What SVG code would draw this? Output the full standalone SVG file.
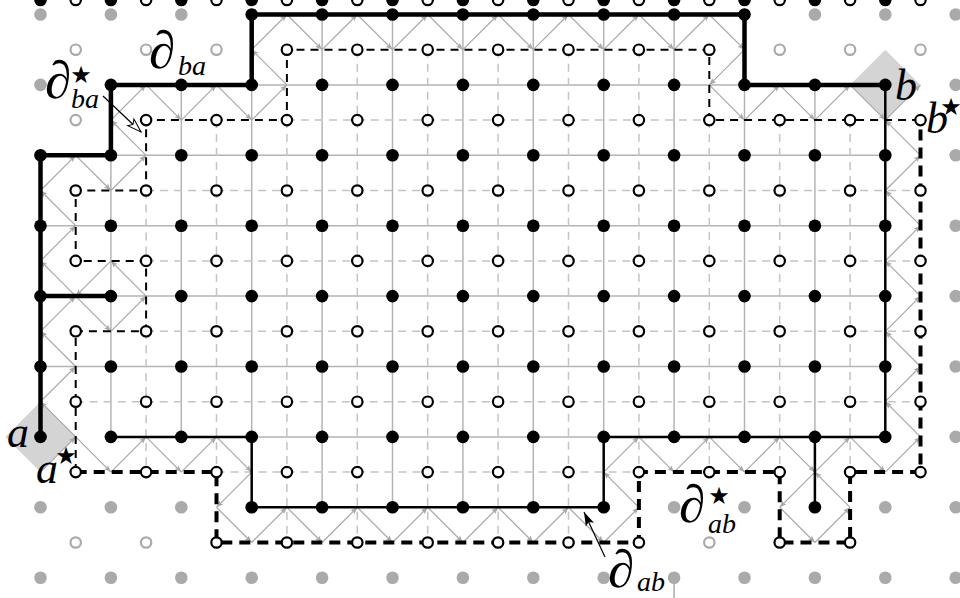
<svg xmlns="http://www.w3.org/2000/svg" width="960" height="598" viewBox="0 0 960 598">
<style>
.pe{stroke:#b4b4b4;stroke-width:1.5;fill:none}
.de{stroke:#c4c4c4;stroke-width:1.5;stroke-dasharray:8 6;fill:none}
.md path{stroke:#a8a8a8;stroke-width:1.2;fill:none;marker-end:url(#ah)}
.bt{stroke:#000;stroke-width:4.5;fill:none}
.bm{stroke:#000;stroke-width:2.5;fill:none}
.dt{stroke:#000;stroke-width:2;stroke-dasharray:8 6;fill:none}
.dT{stroke:#000;stroke-width:4;stroke-dasharray:11 7;fill:none}
.B circle{fill:#000}
.G circle{fill:#aaa}
.O circle{fill:#fff;stroke:#000;stroke-width:2.2}
.Q circle{fill:#fff;stroke:#aaa;stroke-width:2.2}
.dm{fill:#d4d4d4}
text{font-family:"Liberation Serif","DejaVu Serif",serif;font-style:italic;fill:#000}
.st{font-family:"DejaVu Sans",sans-serif;font-style:normal;font-size:24px}
.pd{font-size:53px}
.sb{font-size:28px}
</style>
<defs>
<marker id="ah" markerUnits="userSpaceOnUse" markerWidth="9" markerHeight="7" refX="7" refY="2.75" orient="auto" overflow="visible"><path d="M0,0 L7,2.75 L0,5.5 L1.5,2.75 Z" fill="#a8a8a8"/></marker>
<marker id="oa" markerUnits="userSpaceOnUse" markerWidth="16" markerHeight="10" refX="14" refY="4.5" orient="auto" overflow="visible"><path d="M0,0 L14,4.5 L0,9 L3,4.5 Z" fill="#fff" stroke="#000" stroke-width="1"/></marker>
<marker id="fa" markerUnits="userSpaceOnUse" markerWidth="16" markerHeight="10" refX="14" refY="4.5" orient="auto" overflow="visible"><path d="M0,0 L14,4.5 L0,9 L3,4.5 Z" fill="#000"/></marker>
</defs>

<g id="faces">
<path class="dm" d="M5.3 436.9L40.5 401.7L75.7 436.9L40.5 472.1Z"/>
<path class="dm" d="M850.1 84.9L885.3 49.7L920.5 84.9L885.3 120.1Z"/>
</g>

<g id="connectors">
<path class="pe" d="M251.7 84.9H744.5M110.9 155.3H885.3M40.5 225.7H885.3M110.9 296.1H885.3M40.5 366.5H885.3M251.7 436.9H603.7M110.9 155.3V436.9M181.3 84.9V436.9M251.7 84.9V436.9M322.1 14.5V507.3M392.5 14.5V507.3M462.9 14.5V507.3M533.3 14.5V507.3M603.7 14.5V436.9M674.1 14.5V436.9M744.5 84.9V436.9M814.9 84.9V436.9"/>
<path class="de" d="M286.9 120.1H709.3M146.1 190.5H920.5M146.1 260.9H920.5M146.1 331.3H920.5M75.7 401.7H920.5M216.5 472.1H638.9M146.1 190.5V260.9M146.1 331.3V472.1M216.5 120.1V472.1M286.9 120.1V542.5M357.3 49.7V542.5M427.7 49.7V542.5M498.1 49.7V542.5M568.5 49.7V542.5M638.9 49.7V472.1M709.3 120.1V472.1M779.7 120.1V472.1M850.1 120.1V472.1"/>
<path d="M674.1 580V598" stroke="#aaa" stroke-width="1.5"/>

<g class="md" id="medial-ba">
<path d="M75.7 436.9L40.5 401.7"/><path d="M40.5 401.7L75.7 366.5"/><path d="M75.7 366.5L40.5 331.3"/><path d="M40.5 331.3L75.7 296.1"/><path d="M75.7 296.1L110.9 331.3"/><path d="M110.9 331.3L146.1 296.1"/><path d="M146.1 296.1L110.9 260.9"/><path d="M110.9 260.9L75.7 296.1"/><path d="M75.7 296.1L40.5 260.9"/><path d="M40.5 260.9L75.7 225.7"/><path d="M75.7 225.7L40.5 190.5"/><path d="M40.5 190.5L75.7 155.3"/><path d="M75.7 155.3L110.9 190.5"/><path d="M110.9 190.5L146.1 155.3"/><path d="M146.1 155.3L110.9 120.1"/><path d="M110.9 120.1L146.1 84.9"/><path d="M146.1 84.9L181.3 120.1"/><path d="M181.3 120.1L216.5 84.9"/><path d="M216.5 84.9L251.7 120.1"/><path d="M251.7 120.1L286.9 84.9"/><path d="M286.9 84.9L251.7 49.7"/><path d="M251.7 49.7L286.9 14.5"/><path d="M286.9 14.5L322.1 49.7"/><path d="M322.1 49.7L357.3 14.5"/><path d="M357.3 14.5L392.5 49.7"/><path d="M392.5 49.7L427.7 14.5"/><path d="M427.7 14.5L462.9 49.7"/><path d="M462.9 49.7L498.1 14.5"/><path d="M498.1 14.5L533.3 49.7"/><path d="M533.3 49.7L568.5 14.5"/><path d="M568.5 14.5L603.7 49.7"/><path d="M603.7 49.7L638.9 14.5"/><path d="M638.9 14.5L674.1 49.7"/><path d="M674.1 49.7L709.3 14.5"/><path d="M709.3 14.5L744.5 49.7"/><path d="M744.5 49.7L709.3 84.9"/><path d="M709.3 84.9L744.5 120.1"/><path d="M744.5 120.1L779.7 84.9"/><path d="M779.7 84.9L814.9 120.1"/><path d="M814.9 120.1L850.1 84.9"/><path d="M850.1 84.9L885.3 120.1"/>
</g>
<g class="md" id="medial-ab">
<path d="M40.5 472.1L75.7 436.9"/><path d="M75.7 436.9L110.9 472.1"/><path d="M110.9 472.1L146.1 436.9"/><path d="M146.1 436.9L181.3 472.1"/><path d="M181.3 472.1L216.5 436.9"/><path d="M216.5 436.9L251.7 472.1"/><path d="M251.7 472.1L216.5 507.3"/><path d="M216.5 507.3L251.7 542.5"/><path d="M251.7 542.5L286.9 507.3"/><path d="M286.9 507.3L322.1 542.5"/><path d="M322.1 542.5L357.3 507.3"/><path d="M357.3 507.3L392.5 542.5"/><path d="M392.5 542.5L427.7 507.3"/><path d="M427.7 507.3L462.9 542.5"/><path d="M462.9 542.5L498.1 507.3"/><path d="M498.1 507.3L533.3 542.5"/><path d="M533.3 542.5L568.5 507.3"/><path d="M568.5 507.3L603.7 542.5"/><path d="M603.7 542.5L638.9 507.3"/><path d="M638.9 507.3L603.7 472.1"/><path d="M603.7 472.1L638.9 436.9"/><path d="M638.9 436.9L674.1 472.1"/><path d="M674.1 472.1L709.3 436.9"/><path d="M709.3 436.9L744.5 472.1"/><path d="M744.5 472.1L779.7 436.9"/><path d="M779.7 436.9L814.9 472.1"/><path d="M814.9 472.1L779.7 507.3"/><path d="M779.7 507.3L814.9 542.5"/><path d="M814.9 542.5L850.1 507.3"/><path d="M850.1 507.3L814.9 472.1"/><path d="M814.9 472.1L850.1 436.9"/><path d="M850.1 436.9L885.3 472.1"/><path d="M885.3 472.1L920.5 436.9"/><path d="M920.5 436.9L885.3 401.7"/><path d="M885.3 401.7L920.5 366.5"/><path d="M920.5 366.5L885.3 331.3"/><path d="M885.3 331.3L920.5 296.1"/><path d="M920.5 296.1L885.3 260.9"/><path d="M885.3 260.9L920.5 225.7"/><path d="M920.5 225.7L885.3 190.5"/><path d="M885.3 190.5L920.5 155.3"/><path d="M920.5 155.3L885.3 120.1"/><path d="M885.3 120.1L920.5 84.9"/>
</g>

<path id="dual-ba" class="dt" d="M75.7 472.1V331.3H146.1V260.9H75.7V190.5H146.1V120.1H286.9V49.7H709.3V120.1H920.5"/>
<path id="dual-ab" class="dT" d="M75.7 472.1H216.5V542.5H638.9V472.1H779.7V542.5H850.1V472.1H920.5V120.1"/>
<path id="bd-ba" class="bt" d="M40.5 436.9V155.3H110.9V84.9H251.7V14.5H744.5V84.9H885.3M40.5 296.1H110.9"/>
<path id="bd-ab" class="bm" d="M885.3 84.9V436.9H603.7V507.3H251.7V436.9H110.9M814.9 436.9V507.3"/>
<path d="M103 96L141 132" stroke="#000" stroke-width="1.2" marker-end="url(#oa)"/>
<path d="M605 557L584 512" stroke="#000" stroke-width="1.2" marker-end="url(#fa)"/>
</g>

<g id="primal-in" class="B">
<g transform="translate(0,14.5)"><circle cx="251.7" r="6.3"/><circle cx="322.1" r="6.3"/><circle cx="392.5" r="6.3"/><circle cx="462.9" r="6.3"/><circle cx="533.3" r="6.3"/><circle cx="603.7" r="6.3"/><circle cx="674.1" r="6.3"/><circle cx="744.5" r="6.3"/></g>
<g transform="translate(0,84.9)"><circle cx="110.9" r="6.3"/><circle cx="181.3" r="6.3"/><circle cx="251.7" r="6.3"/><circle cx="322.1" r="6.3"/><circle cx="392.5" r="6.3"/><circle cx="462.9" r="6.3"/><circle cx="533.3" r="6.3"/><circle cx="603.7" r="6.3"/><circle cx="674.1" r="6.3"/><circle cx="744.5" r="6.3"/><circle cx="814.9" r="6.3"/><circle cx="885.3" r="6.3"/></g>
<g id="row13"><circle cx="40.5" r="6.3"/><circle cx="110.9" r="6.3"/><circle cx="181.3" r="6.3"/><circle cx="251.7" r="6.3"/><circle cx="322.1" r="6.3"/><circle cx="392.5" r="6.3"/><circle cx="462.9" r="6.3"/><circle cx="533.3" r="6.3"/><circle cx="603.7" r="6.3"/><circle cx="674.1" r="6.3"/><circle cx="744.5" r="6.3"/><circle cx="814.9" r="6.3"/><circle cx="885.3" r="6.3"/></g>
<use href="#row13" y="155.3"/><use href="#row13" y="225.7"/><use href="#row13" y="296.1"/><use href="#row13" y="366.5"/><use href="#row13" y="436.9"/>
<g transform="translate(0,507.3)"><circle cx="251.7" r="6.3"/><circle cx="322.1" r="6.3"/><circle cx="392.5" r="6.3"/><circle cx="462.9" r="6.3"/><circle cx="533.3" r="6.3"/><circle cx="603.7" r="6.3"/><circle cx="814.9" r="6.3"/></g>
</g>
<g id="primal-out" class="G">
<g transform="translate(0,14.5)"><circle cx="40.5" r="6.3"/><circle cx="110.9" r="6.3"/><circle cx="181.3" r="6.3"/><circle cx="814.9" r="6.3"/><circle cx="885.3" r="6.3"/><circle cx="955.7" r="6.3"/></g>
<circle cx="40.5" cy="84.9" r="6.3"/><circle cx="955.7" cy="84.9" r="6.3"/>
<circle cx="955.7" cy="155.3" r="6.3"/><circle cx="955.7" cy="225.7" r="6.3"/><circle cx="955.7" cy="296.1" r="6.3"/><circle cx="955.7" cy="366.5" r="6.3"/><circle cx="955.7" cy="436.9" r="6.3"/>
<g transform="translate(0,507.3)"><circle cx="40.5" r="6.3"/><circle cx="110.9" r="6.3"/><circle cx="181.3" r="6.3"/><circle cx="674.1" r="6.3"/><circle cx="744.5" r="6.3"/><circle cx="885.3" r="6.3"/><circle cx="955.7" r="6.3"/></g>
<g transform="translate(0,577.7)"><circle cx="40.5" r="6.3"/><circle cx="110.9" r="6.3"/><circle cx="181.3" r="6.3"/><circle cx="251.7" r="6.3"/><circle cx="322.1" r="6.3"/><circle cx="392.5" r="6.3"/><circle cx="462.9" r="6.3"/><circle cx="533.3" r="6.3"/><circle cx="603.7" r="6.3"/><circle cx="674.1" r="6.3"/><circle cx="744.5" r="6.3"/><circle cx="814.9" r="6.3"/><circle cx="885.3" r="6.3"/><circle cx="955.7" r="6.3"/></g>
</g>
<g id="dual-in" class="O">
<g transform="translate(0,49.7)"><circle cx="286.9" r="5.2"/><circle cx="357.3" r="5.2"/><circle cx="427.7" r="5.2"/><circle cx="498.1" r="5.2"/><circle cx="568.5" r="5.2"/><circle cx="638.9" r="5.2"/><circle cx="709.3" r="5.2"/></g>
<g transform="translate(0,120.1)"><circle cx="146.1" r="5.2"/><circle cx="216.5" r="5.2"/><circle cx="286.9" r="5.2"/><circle cx="357.3" r="5.2"/><circle cx="427.7" r="5.2"/><circle cx="498.1" r="5.2"/><circle cx="568.5" r="5.2"/><circle cx="638.9" r="5.2"/><circle cx="709.3" r="5.2"/><circle cx="779.7" r="5.2"/><circle cx="850.1" r="5.2"/><circle cx="920.5" r="5.2"/></g>
<g id="drow"><circle cx="75.7" r="5.2"/><circle cx="146.1" r="5.2"/><circle cx="216.5" r="5.2"/><circle cx="286.9" r="5.2"/><circle cx="357.3" r="5.2"/><circle cx="427.7" r="5.2"/><circle cx="498.1" r="5.2"/><circle cx="568.5" r="5.2"/><circle cx="638.9" r="5.2"/><circle cx="709.3" r="5.2"/><circle cx="779.7" r="5.2"/><circle cx="850.1" r="5.2"/><circle cx="920.5" r="5.2"/></g>
<use href="#drow" y="190.5"/><use href="#drow" y="260.9"/><use href="#drow" y="331.3"/><use href="#drow" y="401.7"/><use href="#drow" y="472.1"/>
<g transform="translate(0,542.5)"><circle cx="216.5" r="5.2"/><circle cx="286.9" r="5.2"/><circle cx="357.3" r="5.2"/><circle cx="427.7" r="5.2"/><circle cx="498.1" r="5.2"/><circle cx="568.5" r="5.2"/><circle cx="638.9" r="5.2"/><circle cx="779.7" r="5.2"/><circle cx="850.1" r="5.2"/></g>
</g>
<g id="dual-out" class="Q">
<circle cx="75.7" cy="49.7" r="5.2"/><circle cx="146.1" cy="49.7" r="5.2"/><circle cx="216.5" cy="49.7" r="5.2"/><circle cx="779.7" cy="49.7" r="5.2"/><circle cx="850.1" cy="49.7" r="5.2"/><circle cx="920.5" cy="49.7" r="5.2"/>
<circle cx="75.7" cy="120.1" r="5.2"/>
<circle cx="75.7" cy="542.5" r="5.2"/><circle cx="146.1" cy="542.5" r="5.2"/><circle cx="709.3" cy="542.5" r="5.2"/>
</g>

<g id="labels">
<text x="7" y="447" font-size="44">a</text>
<text x="36" y="483" font-size="44">a</text><text class="st" x="66" y="464" text-anchor="middle">★</text>
<text x="895" y="100" font-size="44">b</text>
<text x="926" y="133" font-size="44">b</text><text class="st" x="951" y="115" text-anchor="middle">★</text>
<text class="pd" x="149" y="68">∂</text><text class="sb" x="178" y="75">ba</text>
<text class="pd" x="45" y="98">∂</text><text class="st" x="81" y="83" text-anchor="middle">★</text><text class="sb" x="71" y="108">ba</text>
<text class="pd" x="608" y="587">∂</text><text class="sb" x="637" y="591">ab</text>
<text class="pd" x="679" y="522">∂</text><text class="st" x="719" y="504" text-anchor="middle">★</text><text class="sb" x="708" y="533">ab</text>
</g>
</svg>
